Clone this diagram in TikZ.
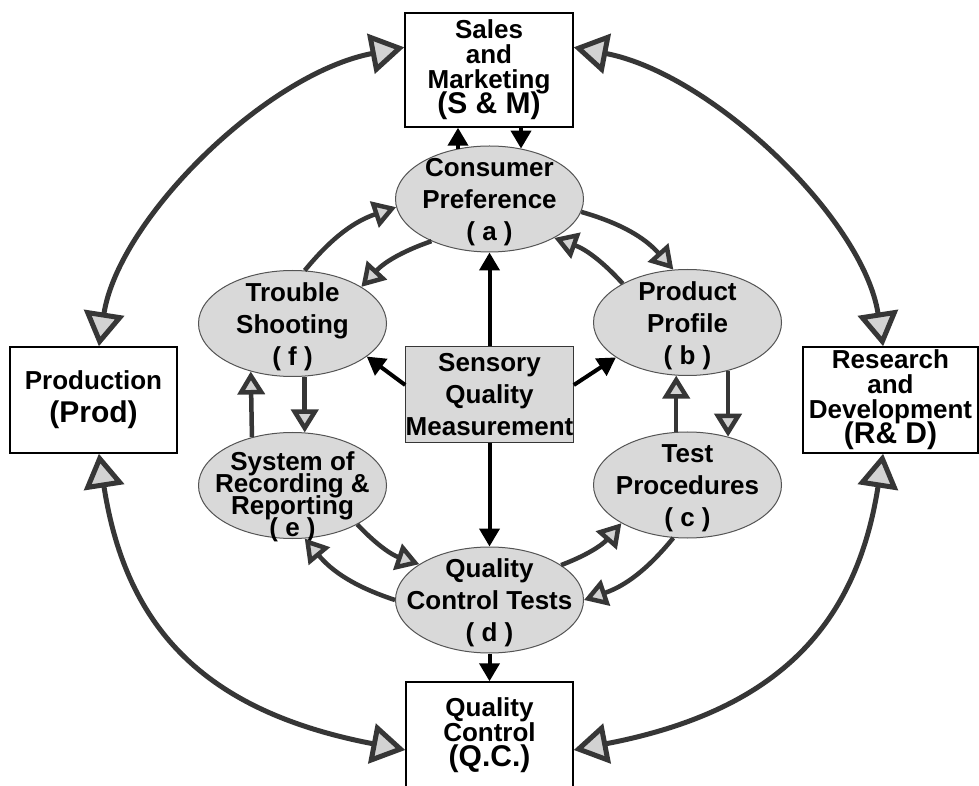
\documentclass[tikz,border=0pt]{standalone}
\usepackage{fontspec}
\setmainfont{Liberation Sans}
\usetikzlibrary{arrows.meta,shapes.geometric,calc}
\definecolor{ln}{HTML}{363636}
\definecolor{hd}{HTML}{D2D2D2}
\definecolor{ef}{HTML}{D9D9D9}
\setlength{\lineskiplimit}{-40pt}
\begin{document}
\begin{tikzpicture}[x=1pt,y=1pt,
 ell/.style={ellipse, draw=ln!85, line width=1pt, fill=ef, minimum width=188pt, minimum height=106pt, inner sep=0pt},
 txt/.style={align=center, font=\bfseries\fontsize{26}{32}\selectfont, inner sep=0pt},
 txtb/.style={align=center, font=\bfseries\fontsize{26}{25}\selectfont, inner sep=0pt},
 box/.style={rectangle, draw=black, line width=1.5pt, fill=white, inner sep=0pt},
 outer/.style={draw=ln, line width=5pt, {Triangle[length=34pt,width=40pt,fill=hd]}-{Triangle[length=34pt,width=40pt,fill=hd]}},
 inner/.style={draw=ln, line width=4.5pt, -{Triangle[length=23pt,width=27pt,fill=hd]}},
 blk/.style={draw=black, line width=4pt, -{Triangle[length=18pt,width=20pt]}}
]
\useasboundingbox (0,0) rectangle (979,785);
\clip (0,0) rectangle (979,785);
\fill[white] (0,0) rectangle (979,785);

% boxes
\node[box, txtb, minimum width=168pt, minimum height=114pt] (SM) at (489,715)
  {Sales\\and\\Marketing\\{\fontsize{30}{25}\selectfont (S \& M)}};
\node[box, txt, fill=ef, draw=ln, line width=1pt, minimum width=167pt, minimum height=96pt] (SQM) at (489.5,390)
  {Sensory\\Quality\\Measurement};
\node[box, align=center, font=\bfseries\fontsize{26}{33}\selectfont, minimum width=167pt, minimum height=106pt] (Prod) at (93.5,385)
  {Production\\{\fontsize{30}{33}\selectfont (Prod)}};
\node[box, txtb, minimum width=175pt, minimum height=106pt] (RD) at (890.5,385)
  {Research\\and\\Development\\{\fontsize{30}{25}\selectfont (R\& D)}};
\node[box, txtb, minimum width=167pt, minimum height=106pt] (QC) at (489.5,50)
  {Quality\\Control\\{\fontsize{30}{25}\selectfont (Q.C.)}};

% ellipses
\node[ell] (CP)  at (489.5,586) {};
\node[ell] (TS)  at (292.5,461.5) {};
\node[ell] (PP)  at (687.5,462.5) {};
\node[ell] (SR)  at (292.5,299.5) {};
\node[ell] (TP)  at (687.5,300) {};
\node[ell] (QCT) at (489.5,185) {};

\node[txt] (CPt)  at ([yshift=-3pt]CP.center)  {Consumer\\Preference\\( a )};
\node[txt] (TSt)  at ([yshift=-3pt]TS.center)  {Trouble\\Shooting\\( f )};
\node[txt] (PPt)  at ([yshift=-3pt]PP.center)  {Product\\Profile\\( b )};
\node[align=center, inner sep=0pt, font=\bfseries\fontsize{26}{22}\selectfont] (SRt) at ([yshift=-11pt]SR.center) {System of\\Recording \&\\Reporting\\( e )};
\node[txt] (TPt)  at ([yshift=-3pt]TP.center)  {Test\\Procedures\\( c )};
\node[txt] (QCTt) at ([yshift=-3pt]QCT.center) {Quality\\Control Tests\\( d )};

% outer double arrows
\draw[outer] (SM.165) .. controls +(-138.4,-26.7) and +(19.7,127.1) .. ([xshift=5.4pt]Prod.north);
\draw[outer] (SM.15) .. controls +(138.4,-26.7) and +(-19.7,127.1) .. ([xshift=-7.4pt]RD.north);
\draw[outer] ([xshift=5.4pt]Prod.south) .. controls +(27.8,-179.4) and +(-195.4,37.7) .. ([yshift=-15pt]QC.west);
\draw[outer] ([xshift=-7.4pt]RD.south) .. controls +(-27.8,-179.4) and +(195.4,37.7) .. ([yshift=-15pt]QC.east);

% inner cycle arrows
\draw[inner] (CP.-8) to[bend left=16] (PP.105);
\draw[inner] (PP.149) to[bend right=14] (CP.-31);
\draw[inner] (PP.-50) -- (TP.50);
\draw[inner] (TP.102) -- (PP.-102);
\draw[inner] (TP.-105) to[bend left=16] (QCT.0);
\draw[inner] (QCT.26) to[bend right=14] (TP.210);
\draw[inner] (SR.-31) to[bend right=14] (QCT.153);
\draw[inner] (QCT.180) to[bend left=16] (SR.-77);
\draw[inner] (SR.130) -- (TS.-131);
\draw[inner] (TS.-77) -- (SR.77);
\draw[inner] (TS.77) to[bend left=16] (CP.185);
\draw[inner] (CP.216) to[bend right=14] (TS.28);

% black arrows
\draw[blk] (SQM.north) -- (CP.south);
\draw[blk] (SQM.south) -- (QCT.north);
\draw[blk] ([yshift=10pt]SQM.west) -- (TS.-24);
\draw[blk] ([yshift=10pt]SQM.east) -- (PP.206);
\draw[blk] (CP.122) -- (CP.122 |- SM.south);
\draw[blk] (CP.58 |- SM.south) -- (CP.58);
\draw[blk] (QCT.south) -- (QC.north);
\end{tikzpicture}
\end{document}
